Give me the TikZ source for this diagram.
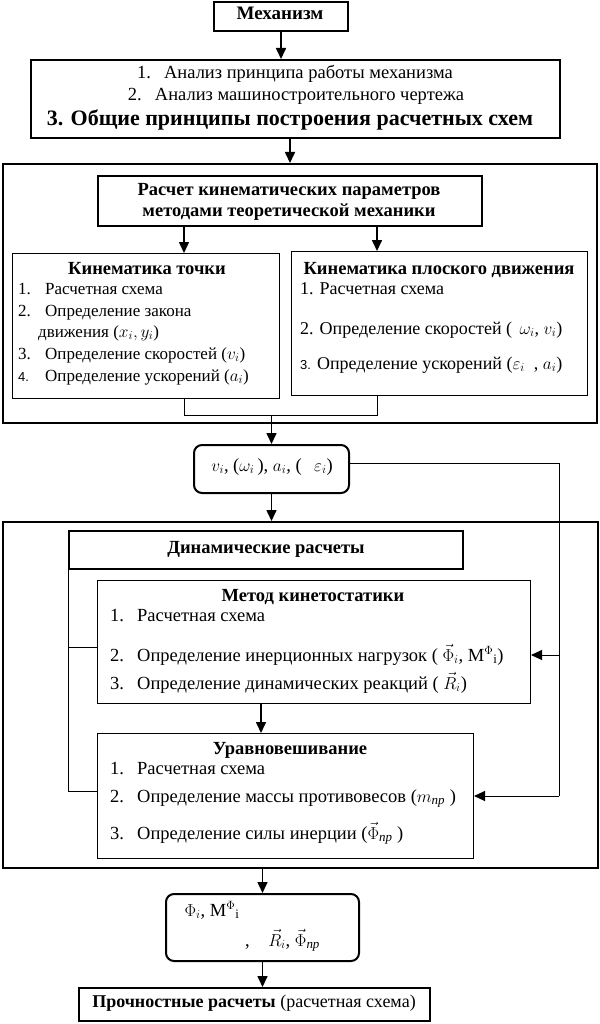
\documentclass[tikz,border=0pt]{standalone}
\usepackage{amsmath}
\usepackage{fontspec}
\setmainfont{Liberation Serif}
\newfontfamily\smallsans{Liberation Sans}
\usetikzlibrary{arrows.meta}
\begin{document}
\begin{tikzpicture}[x=1pt,y=-1pt]
\tikzset{
  thk/.style={draw, line width=2pt, inner sep=0pt, anchor=north west},
  thn/.style={draw, line width=1pt, inner sep=0pt, anchor=north west},
  rnd/.style={thk, rounded corners=8pt},
  txt/.style={inner sep=0pt, text height=12pt, text depth=4pt, font=\fontsize{18.5}{20}\selectfont},
  txtl/.style={txt, anchor=west},
  ptxt/.style={txtl, font=\fontsize{17}{19}\selectfont},
  pltxt/.style={txtl, font=\fontsize{18}{20}\selectfont},
  ttl/.style={txt, font=\fontsize{18.5}{20}\selectfont\bfseries},
  arr/.style={line width=1.6pt, -{Triangle[width=10pt,length=11pt]}},
  ln/.style={line width=1pt},
}
\newcommand\nm[1]{\makebox[27pt][l]{#1}}
\newcommand\snm[1]{\makebox[27pt][l]{\smallsans\fontsize{13}{15}\selectfont #1}}
\useasboundingbox (0,0) rectangle (599,1024);

% boxes
\node[thk, minimum width=134pt, minimum height=29pt] (mech) at (213,1) {};
\node[thk, minimum width=529pt, minimum height=78pt] (box2) at (30,59) {};
\node[thk, minimum width=594pt, minimum height=259pt] (outer1) at (2,163) {};
\node[thk, minimum width=384pt, minimum height=50pt] (kinp) at (97,175) {};
\node[thn, minimum width=267pt, minimum height=145pt] (ptb) at (12,253) {};
\node[thn, minimum width=296pt, minimum height=144pt] (plb) at (291,251) {};
\node[rnd, minimum width=155pt, minimum height=48pt] (rb1) at (193,444) {};
\node[thk, minimum width=595pt, minimum height=346pt] (outer2) at (2,521) {};
\node[thk, minimum width=394pt, minimum height=38pt] (dyn) at (68,530) {};
\node[thn, minimum width=433pt, minimum height=123pt] (kin2) at (97,580) {};
\node[thn, minimum width=376pt, minimum height=125pt] (urv) at (97,733) {};
\node[rnd, minimum width=193pt, minimum height=67pt] (rb2) at (165,893) {};
\node[thk, minimum width=351pt, minimum height=33pt] (fin) at (78,987) {};

% texts
\node[ttl, font=\fontsize{19}{21}\selectfont\bfseries] (t-mech) at (280,16) {Механизм};
\node[txt] (t-b21) at (295,75) {\nm{1.}Анализ принципа работы механизма};
\node[txt] (t-b22) at (296,97) {\nm{2.}Анализ машиностроительного чертежа};
\node[txt, font=\fontsize{22}{24}\selectfont\bfseries] (t-b23) at (290,122) {3. Общие принципы построения расчетных схем};

\node[ttl] (t-k1) at (289,192) {Расчет кинематических параметров};
\node[ttl] (t-k2) at (289,213) {методами теоретической механики};

\node[ttl] (t-pt) at (147,270) {Кинематика точки};
\node[ptxt] (t-pt1) at (18,290) {\nm{1.}Расчетная схема};
\node[ptxt] (t-pt2) at (18,312) {\nm{2.}Определение закона};
\node[ptxt] (t-pt3) at (38,333) {движения ($x_i, y_i$)};
\node[ptxt] (t-pt4) at (18,355) {\nm{3.}Определение скоростей ($v_i$)};
\node[ptxt] (t-pt5) at (18,377) {\snm{4.}Определение ускорений ($a_i$)};

\node[ttl] (t-pl) at (439,270) {Кинематика плоского движения};
\node[pltxt] (t-pl1) at (300,290) {1. Расчетная схема};
\node[pltxt] (t-pl2) at (300,330) {2. Определение скоростей ( \,$\omega_i$, $v_i$)};
\node[pltxt] (t-pl3) at (300,365) {{\smallsans\fontsize{13}{15}\selectfont 3.} Определение ускорений ($\varepsilon_i$\ \ , $a_i$)};

\node[txt] (t-rb1) at (272,467) {$v_i$, ($\omega_i$\,), $a_i$, (\ \ \,$\varepsilon_i$)};

\node[ttl] (t-dyn) at (266,549) {Динамические расчеты};

\node[ttl] (t-kin2) at (313,597) {Метод кинетостатики};
\node[txtl] (t-kn1) at (110,617) {\nm{1.}Расчетная схема};
\node[txtl] (t-kn2) at (110,657) {\nm{2.}Определение инерционных нагрузок ( $\vec{\Phi}_i$, M$^{\Phi}{}_{\mathrm{i}}$)};
\node[txtl] (t-kn3) at (110,685) {\nm{3.}Определение динамических реакций ( $\vec{R}_i$)};

\node[ttl] (t-urv) at (290,750) {Уравновешивание};
\node[txtl] (t-u1) at (110,770) {\nm{1.}Расчетная схема};
\node[txtl] (t-u2) at (110,798) {\nm{2.}Определение массы противовесов ($m_{\text{\itshape пр}}$\ )};
\node[txtl] (t-u3) at (110,835) {\nm{3.}Определение силы инерции ($\vec{\Phi}_{\text{\itshape пр}}$\ )};

\node[txt] (t-rb2a) at (212,912) {$\Phi_i$, M$^{\Phi}{}_{\mathrm{i}}$};
\node[txt, anchor=west] (t-rb2b) at (245,942) {,\ \ \ \ $\vec{R}_i$, $\vec{\Phi}_{\text{\itshape пр}}$};

\node[txt, font=\fontsize{18}{20}\selectfont] (t-fin) at (254,1003) {\textbf{Прочностные расчеты} (расчетная схема)};

% helper coordinates
\coordinate (a1) at (184,0);
\coordinate (a2) at (377,0);
\coordinate (j) at (0,415);
\coordinate (r1) at (559,0);
\coordinate (k2a) at (0,655);
\coordinate (k1) at (0,647);
\coordinate (u1) at (0,791);
\coordinate (a3) at (261,0);

% connectors
\draw[arr] (mech.south) -- (mech.south |- box2.north);
\draw[arr] (box2.south -| kinp.north) -- (kinp.north |- outer1.north);
\draw[arr] (kinp.south -| a1) -- (a1 |- ptb.north);
\draw[arr] (kinp.south -| a2) -- (a2 |- plb.north);
\draw[ln] (ptb.south -| a1) -- (a1 |- j) -- (a2 |- j) -- (plb.south -| a2);
\draw[arr] (j -| rb1.north) -- (rb1.north);
\draw[arr] (rb1.south) -- (rb1.south |- outer2.north);
\draw[ln] ([yshift=6pt]rb1.east) -- ([yshift=6pt]rb1.east -| r1) -- (r1 |- urv.east);
\draw[arr, line width=1pt] (r1 |- urv.east) -- (urv.east);
\draw[arr, line width=1pt] (r1 |- k2a) -- (kin2.east |- k2a);
\draw[ln] (dyn.south west) -- (dyn.south west |- u1) -- (urv.west |- u1);
\draw[ln] (dyn.south west |- k1) -- (kin2.west |- k1);
\draw[arr] (kin2.south -| a3) -- (a3 |- urv.north);
\draw[arr] (outer2.south -| rb2.north) -- (rb2.north);
\draw[arr] (rb2.south) -- (rb2.south |- fin.north);
\end{tikzpicture}
\end{document}
